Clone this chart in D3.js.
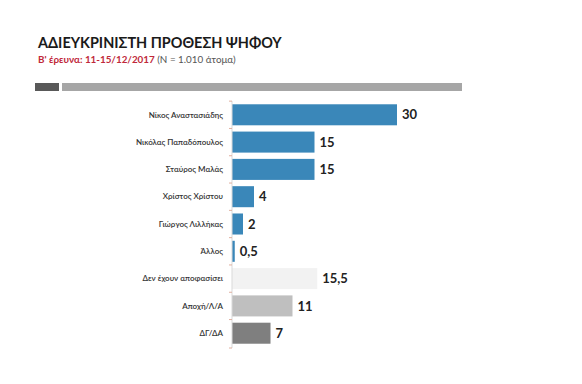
<!DOCTYPE html>
<html><head><meta charset="utf-8">
<script src="https://cdn.jsdelivr.net/npm/d3@7"></script>
<style>body{margin:0;background:#fff}svg{display:block}</style>
</head><body>
<script>
const categories = ["Νίκος Αναστασιάδης","Νικόλας Παπαδόπουλος","Σταύρος Μαλάς","Χρίστος Χρίστου","Γιώργος Λιλλήκας","Άλλος","Δεν έχουν αποφασίσει","Αποχή/Λ/Α","ΔΓ/ΔΑ"];
const values = [30,15,15,4,2,0.5,15.5,11,7];
const valueLabels = ["30","15","15","4","2","0,5","15,5","11","7"];
const colors = ["#3a87b9","#3a87b9","#3a87b9","#3a87b9","#3a87b9","#3a87b9","#f2f2f2","#bfbfbf","#7f7f7f"];
const title = "ΑΔΙΕΥΚΡΙΝΙΣΤΗ ΠΡΟΘΕΣΗ ΨΗΦΟΥ";
const subRed = "Β' έρευνα: 11-15/12/2017";
const subGray = " (N = 1.010 άτομα)";

const W=582,H=384;
const svg=d3.select("body").append("svg").attr("width",W).attr("height",H);
const font="Lato, 'Open Sans', 'Liberation Sans', sans-serif";

const t=svg.append("text").attr("x",38).attr("y",48).attr("font-family",font).attr("font-size",17).attr("font-weight",700).attr("fill","#1a1a1a").text(title);
// fit title to its width in the reference
const tw=t.node().getComputedTextLength();
if(tw>0) t.attr("font-size",17*Math.min(1.15,Math.max(0.85,238/tw)));
const st=svg.append("text").attr("x",38).attr("y",63).attr("font-family",font).attr("font-size",11);
st.append("tspan").attr("fill","#c0283a").attr("font-weight",700).text(subRed);
st.append("tspan").attr("fill","#555").text(subGray);
const sw=st.node().getComputedTextLength();
if(sw>0) st.attr("font-size",11*Math.min(1.15,Math.max(0.85,198/sw)));

svg.append("rect").attr("x",35).attr("y",83).attr("width",24).attr("height",8).attr("fill","#595959");
svg.append("rect").attr("x",62).attr("y",83).attr("width",400).attr("height",8).attr("fill","#a6a6a6");

const x0=232;
const x=d3.scaleLinear().domain([0,30]).range([x0,397]);
const y=d3.scaleBand().domain(categories).range([101,347]).paddingInner(0.23).paddingOuter(0.12);

svg.selectAll("rect.bar").data(categories).join("rect").attr("class","bar")
 .attr("x",x(0)).attr("y",d=>y(d)).attr("width",(d,i)=>x(values[i])-x(0)).attr("height",y.bandwidth())
 .attr("fill",(d,i)=>colors[i]);

const g=svg.append("g").attr("transform",`translate(${x0},0)`);
g.append("line").attr("x1",0).attr("x2",0).attr("y1",101).attr("y2",348).attr("stroke","#d9d9d9").attr("stroke-width",1);
const bounds=categories.map(c=>y(c)-y.step()*y.paddingInner()/2);
bounds.push(348);
g.selectAll("line.tk").data(bounds).join("line").attr("class","tk").attr("x1",-3).attr("x2",0).attr("y1",d=>d).attr("y2",d=>d).attr("stroke","#e0b0a0");

svg.selectAll("text.cat").data(categories).join("text").attr("class","cat")
 .attr("x",223).attr("y",d=>y(d)+y.bandwidth()/2).attr("dy","0.35em").attr("text-anchor","end")
 .attr("font-family",font).attr("font-size",8).attr("font-weight",600).attr("fill","#333").text(d=>d);

svg.selectAll("text.val").data(categories).join("text").attr("class","val")
 .attr("x",(d,i)=>x(values[i])+5).attr("y",d=>y(d)+y.bandwidth()/2).attr("dy","0.36em")
 .attr("font-family",font).attr("font-size",13).attr("font-weight",700).attr("fill","#222").text((d,i)=>valueLabels[i]);
</script>
</body></html>
